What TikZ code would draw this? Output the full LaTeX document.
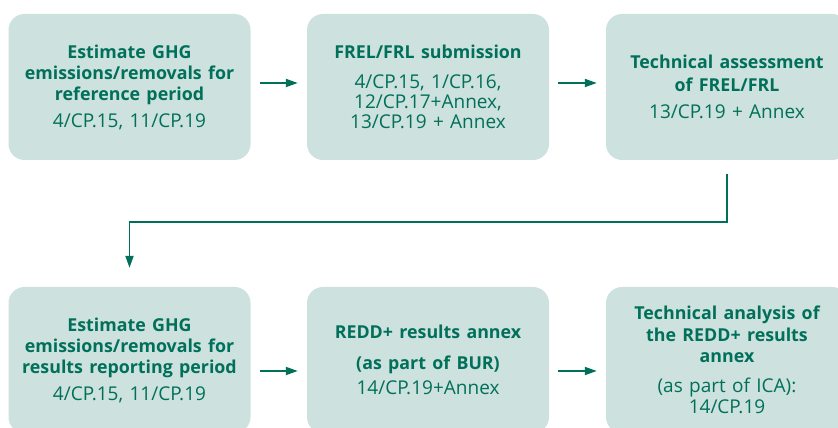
\documentclass[tikz,border=0pt]{standalone}
\usepackage{fontspec}
\setmainfont{Open Sans}
\usepackage{xcolor}
\usetikzlibrary{arrows.meta, positioning, calc}
\definecolor{boxfill}{HTML}{CDE1DE}
\definecolor{darkteal}{HTML}{00705A}
\newcommand{\headfont}{\bfseries\fontsize{17.8}{21}\selectfont}
\tikzstyle{stage} = [rectangle, minimum width=242pt, minimum height=146pt, text width=238pt, inner sep=0pt, rounded corners=16pt, fill=boxfill, text=darkteal, align=center, font=\fontsize{19}{21}\selectfont]
\tikzstyle{arrow} = [line width=1.8pt, draw=darkteal, -{Triangle[length=12pt,width=8pt]}]

\begin{document}
\begin{tikzpicture}
    \clip (0,0) rectangle (838pt,428pt);
    % Top row - reference level
    \node[stage] (refest) at (129.5pt,341pt) {{\headfont Estimate GHG\\ emissions/removals for\\ reference period}\\[6pt] 4/CP.15, 11/CP.19};
    \node[stage] (frel) at (428pt,341pt) {{\headfont FREL/FRL submission}\\[9pt] 4/CP.15, 1/CP.16,\\[-1pt] 12/CP.17+Annex,\\[-1pt] 13/CP.19 + Annex};
    \node[stage] (tech) at (727pt,341pt) {{\headfont Technical assessment\\[2pt] of FREL/FRL}\\[6pt] 13/CP.19 + Annex};

    % Bottom row - results
    \node[stage] (resest) at (129.5pt,68pt) {{\headfont Estimate GHG\\ emissions/removals for\\ results reporting period}\\[6pt] 4/CP.15, 11/CP.19};
    \node[stage] (annex) at (428pt,68pt) {{\headfont REDD+ results annex\\[10pt] (as part of BUR)}\\[4pt] 14/CP.19+Annex};
    \node[stage] (ica) at (727pt,68pt) {{\headfont Technical analysis of\\[1pt] the REDD+ results\\ annex}\\[9pt] (as part of ICA):\\ 14/CP.19};

    % Flow arrows
    \draw[arrow] ([xshift=9pt,yshift=4pt]refest.east) -- ([xshift=-9pt,yshift=4pt]frel.west);
    \draw[arrow] ([xshift=9pt,yshift=4pt]frel.east) -- ([xshift=-9pt,yshift=4pt]tech.west);
    \draw[arrow] ([yshift=-14pt]tech.south) -- ++(0,-48pt) -| ([yshift=19pt]resest.north);
    \draw[arrow] ([xshift=9pt,yshift=-11pt]resest.east) -- ([xshift=-9pt,yshift=-11pt]annex.west);
    \draw[arrow] ([xshift=9pt,yshift=-11pt]annex.east) -- ([xshift=-9pt,yshift=-11pt]ica.west);
\end{tikzpicture}
\end{document}
